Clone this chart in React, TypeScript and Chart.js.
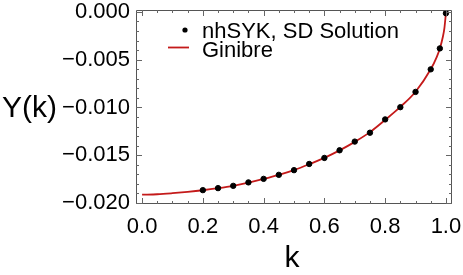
import React, { useEffect, useRef } from "react";
import { Chart, registerables } from "chart.js";

Chart.register(...registerables);

const kData = [0.2, 0.25, 0.3, 0.35, 0.4, 0.45, 0.5, 0.55, 0.6, 0.65, 0.7, 0.75, 0.8, 0.85, 0.9, 0.95, 0.98, 1.0];
const yData = [-0.01865, -0.01844, -0.0182, -0.01784, -0.01747, -0.01705, -0.01656, -0.01591, -0.01528, -0.01448, -0.01357, -0.01264, -0.01125, -0.00997, -0.00837, -0.00601, -0.00382, -0.00014];

const kGin = [0, 0.05, 0.1, 0.15, 0.2, 0.25, 0.3, 0.35, 0.4, 0.45, 0.5, 0.55, 0.6, 0.65, 0.7, 0.75, 0.8, 0.85, 0.9, 0.95, 0.97, 0.98, 0.99, 0.995, 1.0];
const yGin = [-0.01912, -0.01908, -0.01897, -0.01883, -0.01866, -0.01845, -0.0182, -0.01787, -0.01748, -0.01705, -0.01655, -0.01594, -0.01527, -0.01449, -0.0136, -0.01258, -0.0113, -0.00994, -0.00835, -0.006, -0.0047, -0.00383, -0.0026, -0.0017, -0.0001];

const xTicks = [0, 0.2, 0.4, 0.6, 0.8, 1.0];
const yTicks = [-0.02, -0.015, -0.01, -0.005, 0];
const legendLabels = ["nhSYK, SD Solution", "Ginibre"];
const xTitle = "k";
const yTitle = "Y(k)";

const FONT = '"Liberation Sans", Arial, sans-serif';
const RED = "#c41a1a";

const zeroPad = (s: any) => {
  s.paddingLeft = 0;
  s.paddingRight = 0;
  s.paddingTop = 0;
  s.paddingBottom = 0;
};

const framePlugin = {
  id: "frameTicks",
  afterDraw(chart: any) {
    const { ctx, chartArea, scales } = chart;
    const { left, right, top, bottom } = chartArea;
    const xs = scales.x;
    const ys = scales.y;
    ctx.save();
    ctx.strokeStyle = "#555";
    ctx.lineWidth = 1;
    ctx.beginPath();
    ctx.rect(left + 0.5, top + 0.5, right - left - 1, bottom - top - 1);
    ctx.stroke();
    ctx.strokeStyle = "#666";
    ctx.beginPath();
    for (let i = 0; i <= 20; i++) {
      const v = i * 0.05;
      const px = Math.round(xs.getPixelForValue(v)) + 0.5;
      const len = i % 4 === 0 ? 6 : 3;
      ctx.moveTo(px, bottom);
      ctx.lineTo(px, bottom - len);
      ctx.moveTo(px, top);
      ctx.lineTo(px, top + len);
    }
    for (let i = 0; i <= 20; i++) {
      const v = -i * 0.001;
      const py = Math.round(ys.getPixelForValue(v)) + 0.5;
      const len = i % 5 === 0 ? 6 : 3;
      ctx.moveTo(left, py);
      ctx.lineTo(left + len, py);
      ctx.moveTo(right, py);
      ctx.lineTo(right - len, py);
    }
    ctx.stroke();

    // axis titles
    ctx.fillStyle = "#000";
    ctx.font = `30px ${FONT}`;
    ctx.textBaseline = "alphabetic";
    ctx.textAlign = "left";
    ctx.fillText(yTitle, 2, 117);
    ctx.textAlign = "center";
    ctx.fillText(xTitle, (left + right) / 2 - 2, 267);

    // legend
    ctx.font = `22px ${FONT}`;
    ctx.textAlign = "left";
    ctx.beginPath();
    ctx.arc(185, 30, 2.6, 0, Math.PI * 2);
    ctx.fill();
    ctx.fillText(legendLabels[0], 202, 38);
    ctx.strokeStyle = RED;
    ctx.lineWidth = 1.8;
    ctx.beginPath();
    ctx.moveTo(168, 47.5);
    ctx.lineTo(189, 47.5);
    ctx.stroke();
    ctx.fillText(legendLabels[1], 202, 57);
    ctx.restore();
  },
};

export default function App() {
  const ref = useRef<HTMLCanvasElement>(null);
  useEffect(() => {
    if (!ref.current) return;
    const chart = new Chart(ref.current, {
      type: "scatter",
      data: {
        datasets: [
          {
            label: legendLabels[0],
            data: kData.map((k, i) => ({ x: k, y: yData[i] })),
            backgroundColor: "#000",
            borderColor: "#000",
            pointRadius: 2.7,
            showLine: false,
            order: 0,
          },
          {
            type: "line",
            label: legendLabels[1],
            data: kGin.map((k, i) => ({ x: k, y: yGin[i] })),
            borderColor: RED,
            borderWidth: 1.8,
            pointRadius: 0,
            cubicInterpolationMode: "monotone",
            fill: false,
            order: 1,
          } as any,
        ],
      },
      options: {
        animation: false,
        responsive: false,
        maintainAspectRatio: false,
        layout: { padding: { left: 0, right: 11, top: 10, bottom: 0 } },
        plugins: { legend: { display: false }, tooltip: { enabled: false } },
        scales: {
          x: {
            type: "linear",
            min: -0.02,
            max: 1.02,
            grid: { display: false, drawTicks: false },
            border: { display: false },
            afterBuildTicks: (s: any) => {
              s.ticks = xTicks.map((v) => ({ value: v }));
            },
            afterFit: (s: any) => {
              s.height = 71;
              zeroPad(s);
            },
            ticks: {
              padding: 10,
              color: "#000",
              font: { family: FONT, size: 22 },
              maxRotation: 0,
              callback: (v: any) => Number(v).toFixed(1),
            },
          },
          y: {
            type: "linear",
            min: -0.0201,
            max: 0.0002,
            grid: { display: false, drawTicks: false },
            border: { display: false },
            afterBuildTicks: (s: any) => {
              s.ticks = yTicks.map((v) => ({ value: v }));
            },
            afterFit: (s: any) => {
              s.width = 136;
              zeroPad(s);
            },
            ticks: {
              padding: 6,
              color: "#000",
              font: { family: FONT, size: 22 },
              callback: (v: any) => {
                const n = Number(v);
                return (n < -1e-9 ? "\u2212" : "") + Math.abs(n).toFixed(3);
              },
            },
          },
        },
      },
      plugins: [framePlugin],
    });
    return () => chart.destroy();
  }, []);
  return (
    <div style={{ position: "absolute", left: 0, top: 0, width: 463, height: 275, background: "#fff" }}>
      <canvas ref={ref} width={463} height={275} style={{ width: 463, height: 275 }} />
    </div>
  );
}
